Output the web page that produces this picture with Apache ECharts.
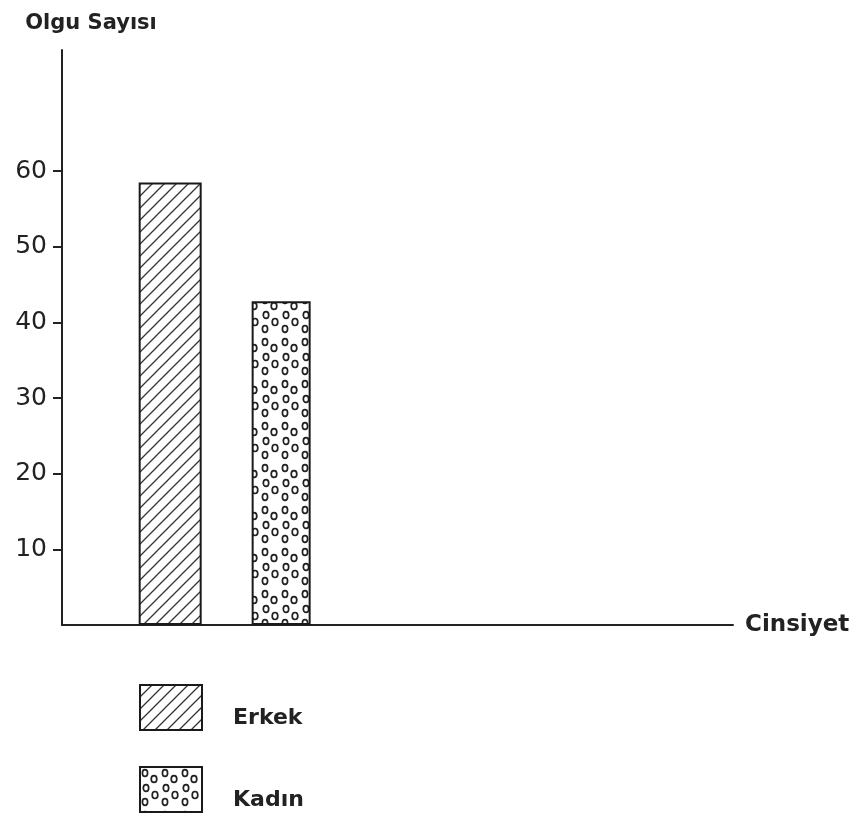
<!DOCTYPE html>
<html>
<head>
<meta charset="utf-8">
<script src="https://cdn.jsdelivr.net/npm/echarts@6/dist/echarts.min.js"></script>
<style>
html,body{margin:0;padding:0;background:#fff;}
#chart{width:859px;height:818px;}
</style>
</head>
<body>
<div id="chart"></div>
<script>
var categories = ['Erkek', 'Kadın'];
var values = [58.5, 42.8];
var yTicks = [10, 20, 30, 40, 50, 60];

function hatchPattern() {
  var c = document.createElement('canvas');
  c.width = 12; c.height = 12;
  var g = c.getContext('2d');
  g.fillStyle = '#fff'; g.fillRect(0, 0, 12, 12);
  g.strokeStyle = '#333'; g.lineWidth = 1.3;
  g.beginPath();
  g.moveTo(0, 12); g.lineTo(12, 0);
  g.moveTo(-3, 3); g.lineTo(3, -3);
  g.moveTo(9, 15); g.lineTo(15, 9);
  g.stroke();
  return c;
}
function circlePattern() {
  var c = document.createElement('canvas');
  c.width = 20; c.height = 42;
  var g = c.getContext('2d');
  g.fillStyle = '#fff'; g.fillRect(0, 0, 20, 42);
  g.strokeStyle = '#222'; g.lineWidth = 1.7;
  var pts = [[5, 6, 2.6, 3.4], [14, 12, 2.8, 3.4], [6, 21, 2.7, 3.4], [15, 28, 2.8, 3.5], [5, 35, 2.6, 3.3]];
  pts.forEach(function (p) {
    g.beginPath();
    g.ellipse(p[0], p[1], p[2], p[3], 0, 0, Math.PI * 2);
    g.stroke();
  });
  return c;
}
var patterns = [hatchPattern(), circlePattern()];
var widths = [63, 59];

var series = categories.map(function (c, i) {
  return {
    name: c,
    type: 'bar',
    barWidth: widths[i],
    barGap: '-100%',
    data: [[i + 1, values[i]]],
    itemStyle: {
      color: { image: patterns[i], repeat: 'repeat' },
      borderColor: '#1a1a1a',
      borderWidth: 2
    },
    emphasis: { disabled: true }
  };
});

var chart = echarts.init(document.getElementById('chart'));
chart.setOption({
  backgroundColor: '#fff',
  animation: false,
  textStyle: { fontFamily: 'DejaVu Sans', color: '#222' },
  grid: { left: 62, right: 126, top: 50, bottom: 193 },
  legend: {
    data: categories,
    orient: 'vertical',
    left: 139,
    top: 684,
    padding: 0,
    icon: 'rect',
    itemWidth: 62,
    itemHeight: 45,
    itemGap: 35,
    formatter: '{t|{name}}',
    textStyle: {
      fontSize: 22, fontWeight: 'bold', color: '#222', fontFamily: 'DejaVu Sans',
      rich: { t: { fontSize: 22, fontWeight: 'bold', color: '#222', fontFamily: 'DejaVu Sans', padding: [22, 0, 0, 26] } }
    }
  },
  xAxis: {
    type: 'value',
    min: 0.06,
    max: 6,
    name: 'Cinsiyet',
    nameLocation: 'end',
    nameGap: 12,
    nameTextStyle: { fontSize: 23, fontWeight: 'bold', color: '#222', fontFamily: 'DejaVu Sans' },
    axisLine: { show: true, onZero: false, lineStyle: { color: '#222', width: 2 } },
    axisTick: { show: false },
    axisLabel: { show: false },
    splitLine: { show: false }
  },
  yAxis: {
    type: 'value',
    min: 0,
    max: 76,
    interval: 10,
    name: 'Olgu Sayısı',
    nameLocation: 'end',
    nameGap: 16,
    nameTextStyle: { fontSize: 21, fontWeight: 'bold', color: '#222', fontFamily: 'DejaVu Sans', align: 'center', padding: [0, 0, 0, 58] },
    axisLine: { show: true, lineStyle: { color: '#222', width: 2 } },
    axisTick: { show: true, length: 9, customValues: yTicks, lineStyle: { color: '#222', width: 2 } },
    axisLabel: { margin: 15, fontSize: 25, color: '#222', fontFamily: 'DejaVu Sans', customValues: yTicks },
    splitLine: { show: false }
  },
  series: series
});
</script>
</body>
</html>
